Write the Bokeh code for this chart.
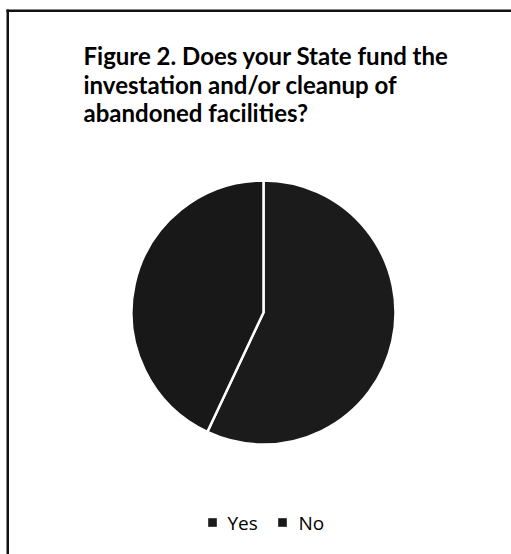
import numpy as np
from bokeh.plotting import figure
from bokeh.models import Range1d, ColumnDataSource
from bokeh.core.properties import value
from bokeh.embed import file_html
from bokeh.resources import INLINE

# Data
categories = ["Yes", "No"]
shares = [57, 43]
colors = ["#1b1b1b", "#181818"]
title_lines = ["Figure 2.  Does your State fund the",
               "investation and/or cleanup of",
               "abandoned facilities?"]

W, H = 511, 554
p = figure(width=W, height=H, output_backend="svg", toolbar_location=None,
           x_range=Range1d(0, W), y_range=Range1d(0, H), min_border=0,
           x_axis_location=None, y_axis_location=None)
p.grid.visible = False
p.outline_line_color = None
p.background_fill_color = "white"
p.border_fill_color = "white"

def Y(page_y):
    return H - page_y

def X(page_x):
    return page_x

# title
for i, t in enumerate(title_lines):
    p.text([X(83)], [Y(55 + i * 28.5)], text=[t], text_font=value("Lato"),
           text_font_style="bold", text_font_size="24px", text_color="black",
           text_baseline="alphabetic")

# pie
vals = np.array(shares, dtype=float)
frac = np.cumsum(vals) / vals.sum()
start_frac = np.concatenate([[0], frac[:-1]])
start = np.pi / 2 - 2 * np.pi * frac
end = np.pi / 2 - 2 * np.pi * start_frac
src = ColumnDataSource(dict(cat=categories, start=start, end=end, color=colors))
p.wedge(x=X(263), y=Y(312), radius=132, start_angle="start", end_angle="end",
        fill_color="color", line_color="white", line_width=2.5, source=src)

# legend
lx = [212, 282]
tx = [227, 298]
for i, c in enumerate(categories):
    p.scatter([X(lx[i])], [Y(522)], marker="square", size=8, fill_color=colors[i],
              line_color="#444444")
    p.text([X(tx[i])], [Y(522)], text=[c], text_font=value("Open Sans"),
           text_font_size="19px", text_color="black", text_baseline="middle")

# frame (top and left edges, as cropped in the scan) drawn as thin filled bars
p.quad(left=[X(6), X(6)], right=[X(8.5), X(W + 5)],
       bottom=[Y(H + 5), Y(11.5)], top=[Y(9), Y(9)],
       fill_color="#111111", line_color=None)

open("out.html", "w").write(file_html(p, INLINE))
